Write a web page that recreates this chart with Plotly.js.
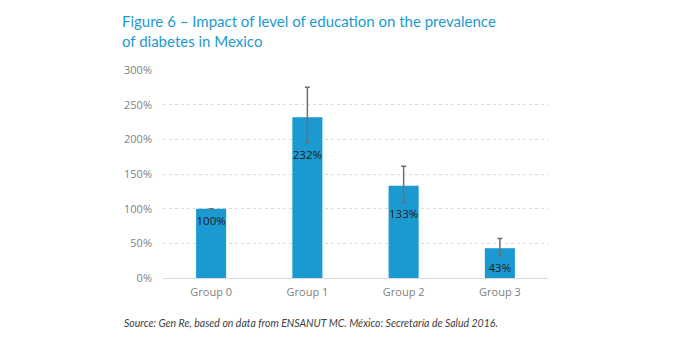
<!DOCTYPE html>
<html>
<head>
<meta charset="utf-8">
<script src="https://cdn.plot.ly/plotly-3.0.1.min.js"></script>
<style>html,body{margin:0;padding:0;background:#fff;}#chart{width:674px;height:355px;}</style>
</head>
<body>
<div id="chart"></div>
<script>
var categories = ["Group 0", "Group 1", "Group 2", "Group 3"];
var values = [100, 232, 133, 43];
var errPlus = [0, 43, 28, 14];
var errMinus = [0, 37, 24, 11];
var labels = ["100%", "232%", "133%", "43%"];
var yTicks = [0, 50, 100, 150, 200, 250, 300];
var yTickText = ["0%", "50%", "100%", "150%", "200%", "250%", "300%"];

var labelY = values.map(function(v, i){ return v - errMinus[i]; });

var bars = {
  type: 'bar', x: categories, y: values,
  marker: {color: '#1b9ad1'},
  error_y: {type: 'data', symmetric: false, array: errPlus, arrayminus: errMinus,
            color: '#707070', thickness: 1.5, width: 2.5},
  hoverinfo: 'none', showlegend: false
};
var texts = {
  type: 'scatter', mode: 'markers+text', x: categories, y: labelY, text: labels,
  marker: {size: 10, opacity: 0},
  textposition: 'bottom center',
  textfont: {family: 'Open Sans, sans-serif', size: 11.5, color: '#1a1a1a'},
  hoverinfo: 'none', showlegend: false, cliponaxis: false
};

var layout = {
  width: 674, height: 355,
  margin: {l: 163, r: 126, t: 69.5, b: 77},
  paper_bgcolor: '#fff', plot_bgcolor: '#fff',
  bargap: 0.6875,
  title: {
    text: 'Figure 6 – Impact of level of education on the prevalence<br>of diabetes in Mexico',
    font: {family: 'Lato, sans-serif', size: 15, color: '#1a9ad0'},
    xref: 'container', yref: 'container', x: 122/674, xanchor: 'left',
    y: 1 - 27/355, yanchor: 'top', pad: {t: 0, l: 0}
  },
  xaxis: {
    type: 'category', showgrid: false, zeroline: false,
    showline: true, linecolor: '#d9d9d9', linewidth: 1,
    ticks: '', tickfont: {family: 'Open Sans, sans-serif', size: 11, color: '#7f7f7f'},
    ticklabelstandoff: 4, fixedrange: true
  },
  yaxis: {
    range: [0, 300], tickvals: yTicks, ticktext: yTickText,
    showgrid: true, gridcolor: '#d9d9d9', griddash: 'dot', gridwidth: 1,
    zeroline: false, showline: false, ticks: '',
    tickfont: {family: 'Open Sans, sans-serif', size: 11, color: '#7f7f7f'},
    ticklabelstandoff: 10, fixedrange: true
  },
  annotations: [{
    text: '<i>Source: Gen Re, based on data from ENSANUT MC. México: Secretaría de Salud 2016.</i>',
    xref: 'paper', yref: 'paper', x: (122 - 163) / 385, y: -(323 - 278) / 208.5,
    xanchor: 'left', yanchor: 'middle', showarrow: false,
    font: {family: 'Lato, sans-serif', size: 10.5, color: '#404040'}
  }]
};

Plotly.newPlot('chart', [bars, texts], layout, {displayModeBar: false, staticPlot: true});
</script>
</body>
</html>
